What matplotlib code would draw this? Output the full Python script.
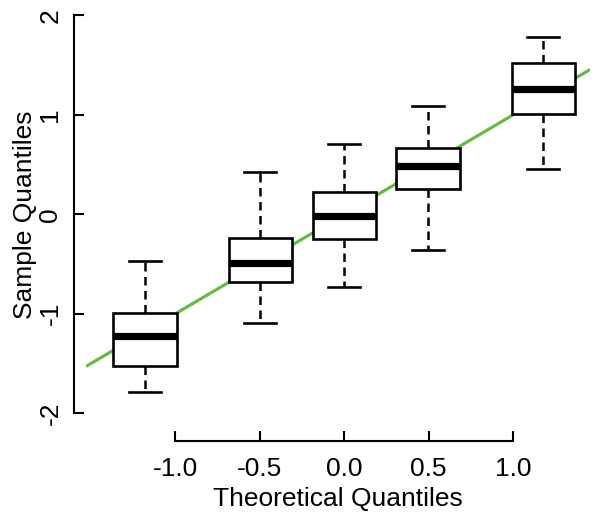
import matplotlib
matplotlib.use("Agg")
import matplotlib.pyplot as plt
import numpy as np

plt.rcParams['font.family'] = ['Liberation Sans', 'DejaVu Sans']

positions = [-1.18, -0.497, 0.0, 0.497, 1.18]
whislo = [-1.785, -1.09, -0.728, -0.356, 0.459]
q1 = [-1.523, -0.678, -0.248, 0.258, 1.006]
med = [-1.224, -0.493, -0.017, 0.483, 1.258]
q3 = [-0.996, -0.235, 0.227, 0.667, 1.519]
whishi = [-0.47, 0.423, 0.707, 1.093, 1.787]

xticks = [-1.0, -0.5, 0.0, 0.5, 1.0]
xticklabels = ['-1.0', '-0.5', '0.0', '0.5', '1.0']
yticks = [-2, -1, 0, 1, 2]
yticklabels = ['-2', '-1', '0', '1', '2']

fig = plt.figure(figsize=(6.0, 5.19), dpi=100)
ax = fig.add_axes([86/600, 1 - 418.1/519, 504/600, (418.1 - 10.5)/519])

xlim = (-1.53, 1.456)
ax.set_xlim(xlim)
ax.set_ylim(-2.05, 2.05)

# qq reference line y = x
xs = np.array(xlim)
ax.plot(xs, xs, color='#66BB44', lw=2.3, zorder=1, solid_capstyle='butt')

stats = []
for i in range(len(positions)):
    stats.append(dict(med=med[i], q1=q1[i], q3=q3[i], whislo=whislo[i], whishi=whishi[i], fliers=[]))

ax.bxp(stats, positions=positions, widths=0.376, patch_artist=True, manage_ticks=False,
       boxprops=dict(facecolor='white', edgecolor='black', linewidth=1.9),
       medianprops=dict(color='black', linewidth=5.2, solid_capstyle='butt'),
       whiskerprops=dict(color='black', linewidth=1.8, linestyle=(0, (3.4, 2.2))),
       capprops=dict(color='black', linewidth=1.9),
       capwidths=0.19, zorder=2)

for s in ['top', 'right']:
    ax.spines[s].set_visible(False)
ax.spines['left'].set_position(('outward', 9))
ax.spines['bottom'].set_position(('outward', 16.3))
ax.spines['left'].set_bounds(-2, 2)
ax.spines['bottom'].set_bounds(-1, 1)
for s in ['left', 'bottom']:
    ax.spines[s].set_linewidth(1.5)

ax.set_xticks(xticks)
ax.set_xticklabels(xticklabels)
ax.set_yticks(yticks)
ax.set_yticklabels(yticklabels, rotation=90, va='center')
ax.tick_params(axis='both', direction='in', length=7, width=1.5, labelsize=19, pad=12)
ax.tick_params(axis='y', pad=8)

ax.set_xlabel('Theoretical Quantiles', fontsize=19, labelpad=4)
ax.set_ylabel('Sample Quantiles', fontsize=19, labelpad=1)

fig.savefig('out.png', dpi=100)
